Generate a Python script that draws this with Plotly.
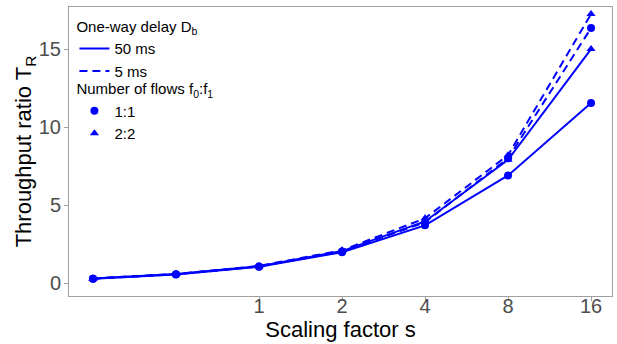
import plotly.graph_objects as go
import math

scales = [0.25, 0.5, 1, 2, 4, 8, 16]
tick_vals = [1, 2, 4, 8, 16]
tick_text = ["1", "2", "4", "8", "16"]

tr_50ms_11 = [0.28, 0.55, 1.05, 1.98, 3.70, 6.90, 11.55]
tr_50ms_22 = [0.30, 0.58, 1.08, 2.05, 3.95, 7.90, 15.00]
tr_5ms_11 = [0.28, 0.56, 1.06, 2.02, 3.90, 8.00, 16.35]
tr_5ms_22 = [0.30, 0.58, 1.10, 2.10, 4.15, 8.20, 17.25]

BLUE = "#0000FF"
DASH = "8px,5px"

fig = go.Figure()

series = [
    (tr_50ms_11, "solid", "circle"),
    (tr_50ms_22, "solid", "triangle-up"),
    (tr_5ms_11, DASH, "circle"),
    (tr_5ms_22, DASH, "triangle-up"),
]
for ys, dash, sym in series:
    fig.add_trace(go.Scatter(
        x=scales, y=ys, mode="lines+markers",
        line=dict(color=BLUE, width=2, dash=dash),
        marker=dict(color=BLUE, size=8, symbol=sym),
        showlegend=False, hoverinfo="skip"))

# legend entries
fig.add_trace(go.Scatter(x=[None], y=[None], mode="lines", name="50 ms",
                         line=dict(color=BLUE, width=2), legend="legend"))
fig.add_trace(go.Scatter(x=[None], y=[None], mode="lines", name="5 ms",
                         line=dict(color=BLUE, width=2, dash=DASH), legend="legend"))
fig.add_trace(go.Scatter(x=[None], y=[None], mode="markers", name="1:1",
                         marker=dict(color=BLUE, size=8, symbol="circle"), legend="legend2"))
fig.add_trace(go.Scatter(x=[None], y=[None], mode="markers", name="2:2",
                         marker=dict(color=BLUE, size=8, symbol="triangle-up"), legend="legend2"))

axis_common = dict(
    showgrid=False, zeroline=False, automargin=False,
    showline=True, linecolor="#a0a0a0", linewidth=1, mirror=True,
    ticks="outside", ticklen=4, tickcolor="#a0a0a0", tickwidth=1,
    tickfont=dict(size=20, color="#4D4D4D"),
)

legend_common = dict(
    x=0.01, xanchor="left", yanchor="top",
    bgcolor="rgba(0,0,0,0)", font=dict(size=15, color="black"),
    itemwidth=30, traceorder="normal",
)

fig.update_layout(
    width=617, height=344,
    margin=dict(l=69, r=5, t=7, b=48),
    paper_bgcolor="white", plot_bgcolor="white",
    font=dict(family="Liberation Sans, Arial, sans-serif", color="black"),
    xaxis=dict(type="log",
               range=[math.log10(0.25) - 0.087, math.log10(16) + 0.076],
               tickvals=tick_vals, ticktext=tick_text, ticklabelstandoff=-12,
               title=dict(text="Scaling factor s", font=dict(size=22), standoff=0),
               **axis_common),
    yaxis=dict(range=[-0.83, 17.7], tickvals=[0, 5, 10, 15], ticklabelstandoff=-1,
               title=dict(text="Throughput ratio T<sub>R</sub>", font=dict(size=22), standoff=0),
               **axis_common),
    legend=dict(y=0.98, title=dict(text="One-way delay D<sub>b</sub>",
                                   font=dict(size=15, color="black")),
                **legend_common),
    legend2=dict(y=0.765, title=dict(text="Number of flows f<sub>0</sub>:f<sub>1</sub>",
                                     font=dict(size=15, color="black")),
                 **legend_common),
)

fig.write_html("out.html")
